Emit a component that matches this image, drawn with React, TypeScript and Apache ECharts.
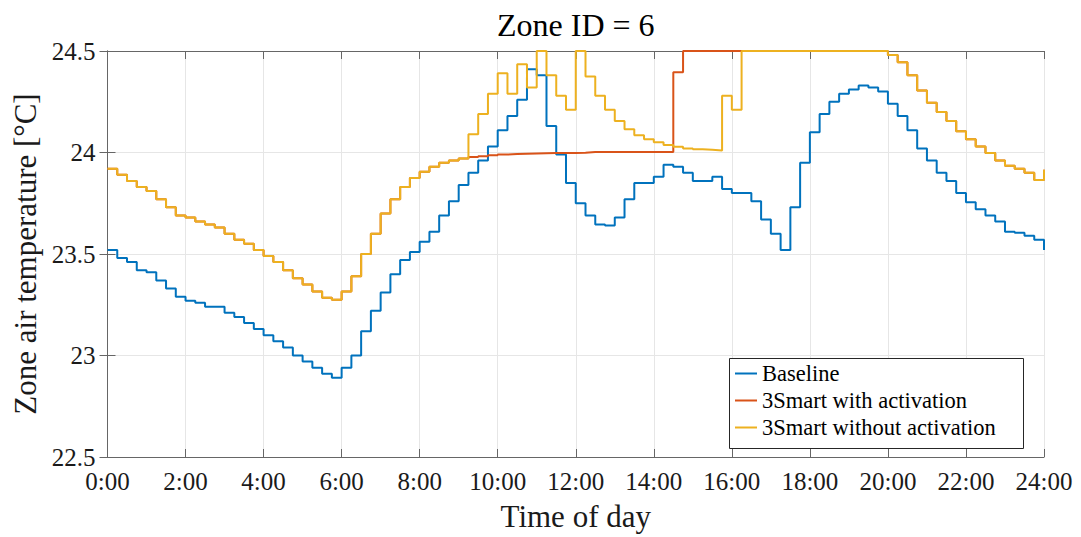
import React, { useEffect, useRef } from "react";
import * as echarts from "echarts";

// Quarter-hour samples over one day (hours)
const timeOfDay: number[] = Array.from({ length: 97 }, (_, i) => i * 0.25);

const xTickHours = [0, 2, 4, 6, 8, 10, 12, 14, 16, 18, 20, 22, 24];

const seriesNames = ["Baseline", "3Smart with activation", "3Smart without activation"];

// Zone air temperature [°C]
const baseline: number[] = [
  23.52, 23.48, 23.46, 23.42, 23.41, 23.37, 23.33, 23.29, 23.27, 23.26,
  23.24, 23.24, 23.21, 23.19, 23.16, 23.13, 23.10, 23.07, 23.04, 23.00,
  22.97, 22.94, 22.91, 22.89, 22.94, 23.00, 23.12, 23.22, 23.31, 23.40,
  23.47, 23.51, 23.56, 23.61, 23.69, 23.76, 23.84, 23.90, 23.96, 24.03,
  24.11, 24.18, 24.26, 24.41, 24.38, 24.13, 23.99, 23.85, 23.75, 23.69,
  23.645, 23.64, 23.68, 23.77, 23.85, 23.85, 23.88, 23.94, 23.93, 23.90,
  23.86, 23.86, 23.88, 23.82, 23.80, 23.80, 23.76, 23.67, 23.60, 23.52,
  23.73, 23.95, 24.10, 24.19, 24.25, 24.29, 24.31, 24.33, 24.32, 24.30,
  24.24, 24.18, 24.11, 24.02, 23.96, 23.90, 23.86, 23.80, 23.755, 23.72,
  23.69, 23.66, 23.61, 23.605, 23.59, 23.57, 23.52,
];

const withActivation: number[] = [
  23.92, 23.89, 23.86, 23.83, 23.81, 23.77, 23.73, 23.69, 23.68, 23.66,
  23.645, 23.63, 23.60, 23.57, 23.55, 23.52, 23.49, 23.46, 23.42, 23.38,
  23.35, 23.315, 23.285, 23.275, 23.315, 23.39, 23.50, 23.60, 23.70, 23.77,
  23.83, 23.875, 23.905, 23.93, 23.95, 23.96, 23.97, 23.978, 23.982, 23.986,
  23.99, 23.992, 23.994, 23.995, 23.996, 23.997, 23.997, 23.998, 23.999, 24.002,
  24.002, 24.002, 24.002, 24.002, 24.002, 24.002, 24.002, 24.002, 24.395, 24.5,
  24.5, 24.5, 24.5, 24.5, 24.5, 24.5, 24.5, 24.5, 24.5, 24.5,
  24.5, 24.5, 24.5, 24.5, 24.5, 24.5, 24.5, 24.5, 24.5, 24.5,
  24.48, 24.445, 24.38, 24.305, 24.245, 24.20, 24.155, 24.105, 24.065, 24.03,
  23.997, 23.96, 23.935, 23.92, 23.90, 23.865, 23.915,
];

const withoutActivation: number[] = [
  23.92, 23.89, 23.86, 23.83, 23.81, 23.77, 23.73, 23.69, 23.68, 23.66,
  23.645, 23.63, 23.60, 23.57, 23.55, 23.52, 23.49, 23.46, 23.42, 23.38,
  23.35, 23.315, 23.285, 23.275, 23.315, 23.39, 23.50, 23.60, 23.70, 23.77,
  23.83, 23.875, 23.905, 23.93, 23.95, 23.96, 23.97, 24.09, 24.19, 24.29,
  24.39, 24.29, 24.435, 24.32, 24.5, 24.38, 24.28, 24.21, 24.5, 24.375,
  24.28, 24.21, 24.155, 24.115, 24.085, 24.065, 24.05, 24.037, 24.028, 24.02,
  24.016, 24.013, 24.01, 24.28, 24.21, 24.5, 24.5, 24.5, 24.5, 24.5,
  24.5, 24.5, 24.5, 24.5, 24.5, 24.5, 24.5, 24.5, 24.5, 24.5,
  24.48, 24.445, 24.38, 24.305, 24.245, 24.20, 24.155, 24.105, 24.065, 24.03,
  23.997, 23.96, 23.935, 23.92, 23.90, 23.865, 23.915,
];

const colors = ["#0072BD", "#D95319", "#EDB120"];

const FONT = "'Liberation Serif', 'Times New Roman', serif";
const AXIS_COLOR = "#666666";
const GRID_COLOR = "#e6e6e6";
const TEXT_COLOR = "#1a1a1a";

const W = 1081;
const H = 537;
const PLOT_LEFT = 107.5;
const PLOT_RIGHT = 1044;
const PLOT_TOP = 51;
const PLOT_BOTTOM = 464;

function pairs(values: number[]): [number, number][] {
  return values.map((v, i) => [timeOfDay[i], v]);
}

export default function App() {
  const ref = useRef<HTMLDivElement>(null);

  useEffect(() => {
    if (!ref.current) return;
    const chart = echarts.init(ref.current, undefined, { renderer: "svg" });

    const boxAxisX = {
      type: "value" as const,
      min: 0,
      max: 24,
      interval: 2,
      axisLine: { show: true, lineStyle: { color: AXIS_COLOR, width: 1 } },
      axisTick: { show: true, inside: true, length: 8, lineStyle: { color: AXIS_COLOR } },
      splitLine: { show: false },
    };
    const boxAxisY = {
      type: "value" as const,
      min: 22.5,
      max: 24.5,
      interval: 0.5,
      axisLine: { show: true, lineStyle: { color: AXIS_COLOR, width: 1 } },
      axisTick: { show: true, inside: true, length: 8, lineStyle: { color: AXIS_COLOR } },
      splitLine: { show: false },
    };

    const allSeries = [baseline, withActivation, withoutActivation];

    chart.setOption({
      animation: false,
      backgroundColor: "#ffffff",
      color: colors,
      grid: {
        left: PLOT_LEFT,
        right: W - PLOT_RIGHT,
        top: PLOT_TOP,
        bottom: H - PLOT_BOTTOM,
        containLabel: false,
      },
      xAxis: [
        {
          ...boxAxisX,
          position: "bottom",
          name: "Time of day",
          nameLocation: "middle",
          nameGap: 44,
          nameTextStyle: { fontFamily: FONT, fontSize: 31, color: TEXT_COLOR },
          axisLabel: {
            fontFamily: FONT,
            fontSize: 25,
            color: TEXT_COLOR,
            margin: 12,
            formatter: (v: number) => (xTickHours.includes(v) ? `${v}:00` : ""),
          },
          splitLine: { show: true, lineStyle: { color: GRID_COLOR, width: 1 } },
        },
        { ...boxAxisX, position: "top", axisLabel: { show: false } },
      ],
      yAxis: [
        {
          ...boxAxisY,
          position: "left",
          name: "Zone air temperature [°C]",
          nameLocation: "middle",
          nameGap: 64,
          nameTextStyle: { fontFamily: FONT, fontSize: 31, color: TEXT_COLOR },
          axisLabel: { fontFamily: FONT, fontSize: 25, color: TEXT_COLOR, margin: 12 },
          splitLine: { show: true, lineStyle: { color: GRID_COLOR, width: 1 } },
        },
        { ...boxAxisY, position: "right", axisLabel: { show: false } },
      ],
      legend: {
        data: seriesNames,
        orient: "vertical",
        left: 729,
        top: 356,
        padding: [6, 6, 6, 6],
        itemGap: 4,
        itemWidth: 22,
        itemHeight: 2,
        icon: "rect",
        z: 20,
        textStyle: { fontFamily: FONT, fontSize: 22.5, color: "#000000" },
      },
      graphic: [
        {
          type: "rect",
          z: 10,
          shape: { x: 729.5, y: 358.5, width: 294, height: 90 },
          style: { fill: "#ffffff", stroke: "#262626", lineWidth: 1 },
        },
        {
          type: "text",
          x: (PLOT_LEFT + PLOT_RIGHT) / 2,
          y: 25,
          z: 20,
          style: {
            text: "Zone ID = 6",
            font: `32px ${FONT}`,
            fill: "#000000",
            align: "center",
            verticalAlign: "middle",
          },
        },
      ],
      series: allSeries.map((vals, k) => ({
        name: seriesNames[k],
        type: "line",
        step: "end",
        data: pairs(vals),
        symbol: "none",
        clip: false,
        lineStyle: { width: 2, color: colors[k] },
        itemStyle: { color: colors[k] },
        z: 2 + k,
      })),
    });

    return () => chart.dispose();
  }, []);

  return (
    <div
      ref={ref}
      style={{ position: "fixed", left: 0, top: 0, width: W, height: H }}
    />
  );
}
